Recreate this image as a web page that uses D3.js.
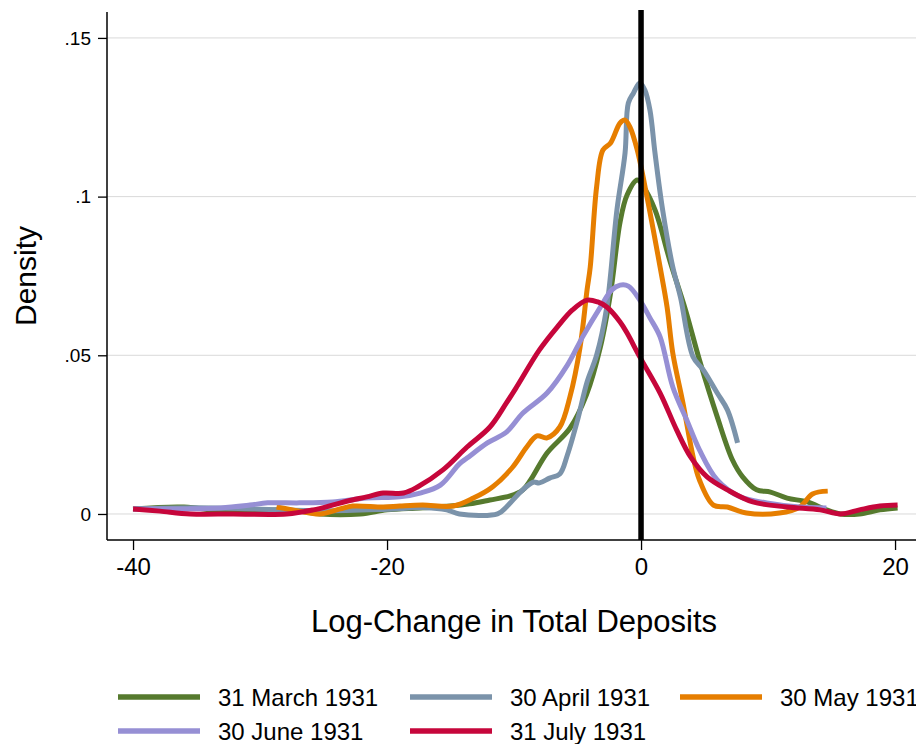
<!DOCTYPE html>
<html>
<head>
<meta charset="utf-8">
<script src="https://cdn.jsdelivr.net/npm/d3@7"></script>
<style>
  html, body { margin: 0; padding: 0; background: #fff; }
  svg { display: block; }
  text { font-family: Arial, "Liberation Sans", sans-serif; fill: #000; }
</style>
</head>
<body>
<svg id="chart" width="916" height="744"></svg>
<script>
// Kernel density estimates of the log-change in total deposits, by month-end date.
const seriesNames = ["31 March 1931", "30 April 1931", "30 May 1931", "30 June 1931", "31 July 1931"];
const seriesColors = ["#567a2e", "#7b93aa", "#e67e00", "#968fd4", "#c6063b"];

const marchX = [-40, -36, -33.1, -30.8, -28.4, -26.9, -25.3, -22.1, -20, -17.4, -15, -13.5, -11.9, -10.3, -9.3, -8.7, -7.4, -5.6, -4.3, -3.2, -2.4, -1.65, -1.1, -0.3, 0.16, 1.1, 2.3, 3.5, 4.6, 6.0, 7.2, 8.0, 9.1, 10.2, 11.5, 13.1, 14.6, 15.7, 17.2, 18.8, 20.2];
const marchY = [0.0016, 0.0022, 0.0009, 0.0006, 0.0013, 0.0009, 0, 0, 0.0013, 0.0019, 0.0025, 0.0032, 0.0044, 0.0057, 0.0076, 0.0107, 0.0192, 0.027, 0.0375, 0.0526, 0.0696, 0.092, 0.1005, 0.1052, 0.1033, 0.0958, 0.0794, 0.0643, 0.0485, 0.0306, 0.017, 0.0117, 0.0076, 0.0069, 0.005, 0.0038, 0.0013, 0, 0, 0.0013, 0.0019];

const aprilX = [-40, -35, -30, -25, -20, -17, -15.3, -14.3, -11.3, -10.6, -9.5, -8.5, -8.0, -7.2, -6.4, -5.8, -5.0, -4.25, -3.5, -2.7, -1.9, -1.26, -1.0, -0.6, -0.1, 0.3, 0.7, 1.1, 1.7, 2.5, 3.1, 4.1, 4.9, 6.0, 6.8, 7.6];
const aprilY = [0.0016, 0.002, 0.0015, 0.001, 0.0015, 0.002, 0.0013, 0, 0, 0.0022, 0.0069, 0.010, 0.0098, 0.0113, 0.0126, 0.0186, 0.0296, 0.0416, 0.050, 0.0652, 0.0958, 0.1137, 0.1295, 0.1326, 0.1358, 0.1336, 0.1273, 0.1137, 0.0958, 0.0778, 0.0684, 0.0495, 0.0454, 0.0381, 0.0328, 0.0224];

const mayX = [-28.7, -26.9, -25.3, -23.7, -22.7, -20.3, -19.0, -17.2, -14.8, -13.2, -11.7, -10.1, -9.0, -8.2, -7.4, -6.4, -5.6, -4.8, -4.25, -4.0, -3.5, -3.0, -2.4, -1.65, -1.26, -0.87, -0.3, 0.47, 1.5, 2.05, 2.5, 3.3, 4.1, 4.6, 5.7, 6.8, 8.3, 10.9, 12.5, 13.5, 14.7];
const mayY = [0.0022, 0.0009, 0, 0.0016, 0.0025, 0.0022, 0.0025, 0.0028, 0.0025, 0.005, 0.0085, 0.0148, 0.0211, 0.0246, 0.024, 0.0274, 0.0369, 0.0526, 0.0706, 0.0778, 0.103, 0.1147, 0.1169, 0.1232, 0.1241, 0.1219, 0.1147, 0.0999, 0.0778, 0.0652, 0.0507, 0.035, 0.018, 0.0107, 0.0028, 0.0022, 0.0003, 0.0003, 0.0022, 0.0063, 0.0072];

const juneX = [-40, -35.7, -33.1, -30.8, -29.4, -26.9, -24.3, -21.6, -19.0, -17.4, -15.8, -14.3, -13.7, -12.1, -10.6, -9.3, -7.4, -5.8, -4.6, -3.2, -2.3, -1.65, -1.0, -0.1, 0.7, 1.5, 2.5, 3.6, 4.6, 6.0, 7.8, 9.9, 12.5, 14.6];
const juneY = [0.0016, 0.0016, 0.0019, 0.0028, 0.0035, 0.0035, 0.0038, 0.005, 0.0054, 0.0066, 0.0091, 0.0158, 0.0176, 0.0224, 0.0258, 0.0318, 0.0381, 0.0469, 0.0558, 0.0652, 0.0706, 0.0721, 0.0718, 0.0674, 0.0618, 0.0558, 0.040, 0.0296, 0.0202, 0.0107, 0.0054, 0.0035, 0.0022, 0.0019];

const julyX = [-40, -37.9, -35.5, -32.1, -27.9, -25.8, -24.3, -23.1, -21.6, -20.3, -18.7, -17.6, -15.6, -13.7, -11.9, -10.6, -9.8, -8.0, -6.6, -5.4, -4.25, -3.4, -2.7, -1.65, -1.1, -0.1, 1.5, 2.8, 3.9, 5.2, 6.8, 8.8, 11.5, 14.1, 15.7, 17.2, 18.8, 20.2];
const julyY = [0.0016, 0.0009, 0, 0, 0, 0.0013, 0.0028, 0.0041, 0.0054, 0.0066, 0.0066, 0.0085, 0.0139, 0.0211, 0.0274, 0.035, 0.040, 0.0517, 0.0589, 0.0643, 0.0674, 0.0668, 0.0652, 0.0605, 0.057, 0.0495, 0.0381, 0.0265, 0.018, 0.0117, 0.0076, 0.0038, 0.0022, 0.0013, 0, 0.0013, 0.0025, 0.0028];

const xTicks = [-40, -20, 0, 20];
const yTicks = [0, 0.05, 0.1, 0.15];
const yTickLabels = ["0", ".05", ".1", ".15"];
const xTitle = "Log-Change in Total Deposits";
const yTitle = "Density";
const refLineX = 0;

const seriesX = [marchX, aprilX, mayX, juneX, julyX];
const seriesY = [marchY, aprilY, mayY, juneY, julyY];

const svg = d3.select("#chart");
const W = 916;

const x = d3.scaleLinear().domain([-42.05, 21.65]).range([107, 916]);
const y = d3.scaleLinear().domain([-0.0082, 0.1588]).range([540, 10]);

// horizontal gridlines
svg.append("g")
  .selectAll("line")
  .data(yTicks)
  .join("line")
  .attr("x1", x.range()[0]).attr("x2", W)
  .attr("y1", d => y(d)).attr("y2", d => y(d))
  .attr("stroke", "#d9d9d9").attr("stroke-width", 1);

// density curves
const line = d3.line()
  .x(d => x(d[0]))
  .y(d => y(d[1]))
  .curve(d3.curveCatmullRom.alpha(0.5));

seriesX.forEach((xs, i) => {
  const pts = xs.map((v, j) => [v, seriesY[i][j]]);
  svg.append("path")
    .datum(pts)
    .attr("d", line)
    .attr("fill", "none")
    .attr("stroke", seriesColors[i])
    .attr("stroke-width", 5)
    .attr("stroke-linejoin", "round")
    .attr("stroke-linecap", "butt");
});

// reference line at zero change
svg.append("line")
  .attr("x1", x(refLineX)).attr("x2", x(refLineX))
  .attr("y1", y.range()[1]).attr("y2", y.range()[0])
  .attr("stroke", "#000").attr("stroke-width", 5.5);

// y axis
const yAxis = d3.axisLeft(y)
  .tickValues(yTicks)
  .tickFormat((d, i) => yTickLabels[i])
  .tickSize(9)
  .tickPadding(7)
  .tickSizeOuter(0);
const gy = svg.append("g").attr("transform", `translate(${x.range()[0]},0)`).call(yAxis);
gy.select(".domain").remove();
gy.append("line")
  .attr("x1", 0).attr("x2", 0)
  .attr("y1", 12).attr("y2", y.range()[0])
  .attr("stroke", "#000").attr("stroke-width", 1.5);
gy.selectAll(".tick line").attr("stroke", "#000").attr("stroke-width", 1.3);
gy.selectAll(".tick text")
  .style("font-size", "19px")
  .style("font-family", "Arial, 'Liberation Sans', sans-serif");

// x axis
const xAxis = d3.axisBottom(x)
  .tickValues(xTicks)
  .tickFormat(d => d < 0 ? "-" + Math.abs(d) : String(d))
  .tickSize(10)
  .tickPadding(8)
  .tickSizeOuter(0);
const gx = svg.append("g").attr("transform", `translate(0,${y.range()[0]})`).call(xAxis);
gx.select(".domain").remove();
gx.append("line")
  .attr("x1", x.range()[0]).attr("x2", W)
  .attr("y1", 0).attr("y2", 0)
  .attr("stroke", "#000").attr("stroke-width", 1.5);
gx.selectAll(".tick line").attr("stroke", "#000").attr("stroke-width", 1.3);
gx.selectAll(".tick text")
  .style("font-size", "24px")
  .style("font-family", "Arial, 'Liberation Sans', sans-serif");

// axis titles
svg.append("text")
  .attr("x", 514).attr("y", 632)
  .attr("text-anchor", "middle")
  .style("font-size", "31px")
  .text(xTitle);

svg.append("text")
  .attr("transform", "translate(36,276) rotate(-90)")
  .attr("text-anchor", "middle")
  .style("font-size", "30px")
  .text(yTitle);

// legend
const legendPos = [[118, 697], [410, 697], [680, 697], [118, 731], [410, 731]];
const lg = svg.append("g");
seriesNames.forEach((name, i) => {
  const [lx, ly] = legendPos[i];
  lg.append("line")
    .attr("x1", lx).attr("x2", lx + 82)
    .attr("y1", ly).attr("y2", ly)
    .attr("stroke", seriesColors[i]).attr("stroke-width", 5.5);
  lg.append("text")
    .attr("x", lx + 100).attr("y", ly + 8.5)
    .style("font-size", "24px")
    .text(name);
});
</script>
</body>
</html>
